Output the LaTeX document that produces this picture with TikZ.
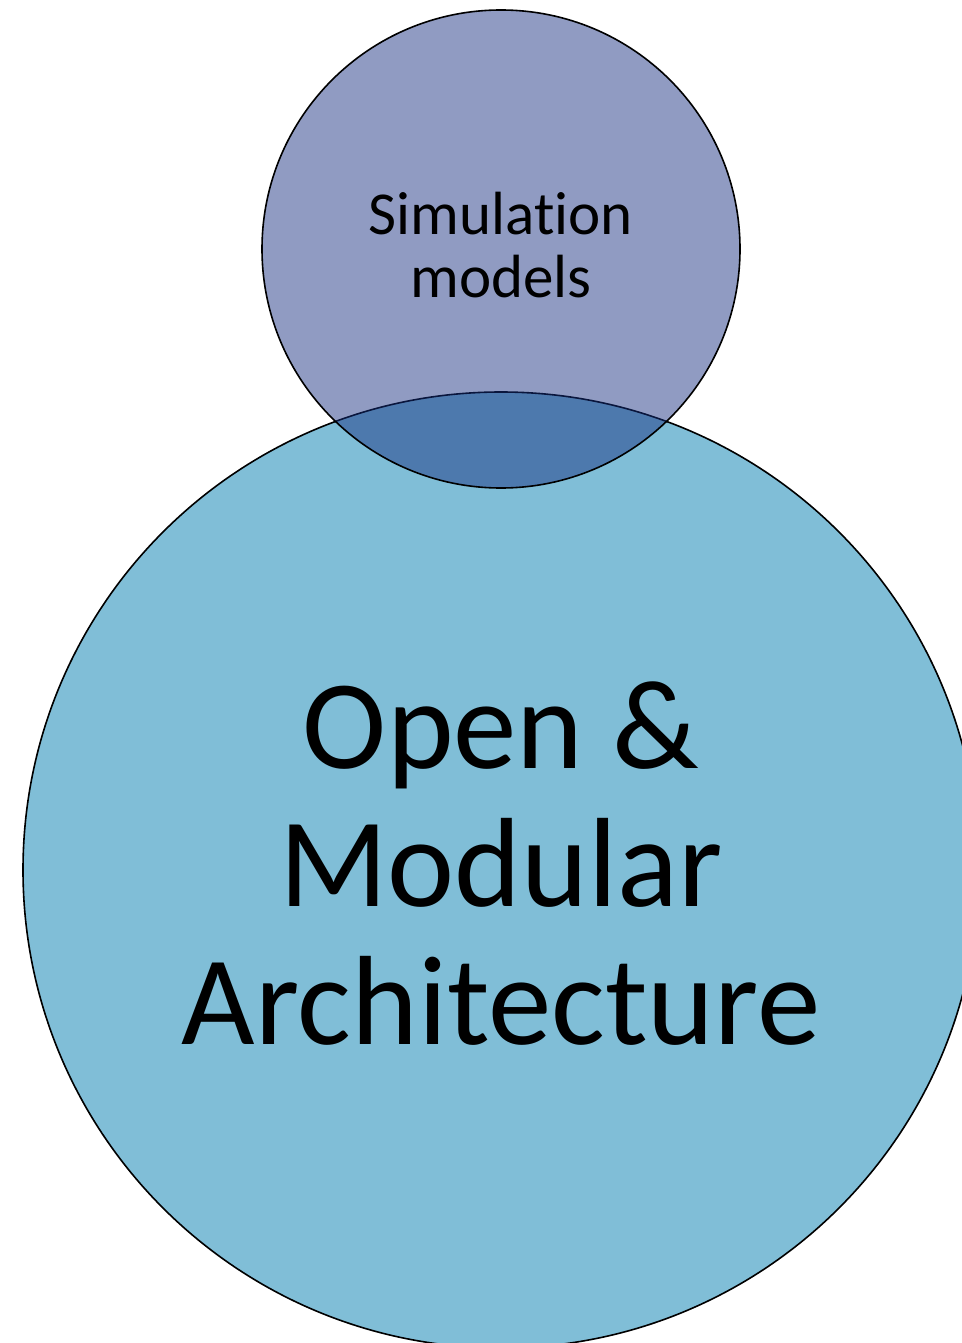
\documentclass[tikz,border=0pt]{standalone}
\usepackage{fontspec}
\setmainfont[Ligatures=NoCommon]{Carlito}
\begin{document}
\begin{tikzpicture}[x=1pt,y=-1pt,
  bigcirc/.style={circle, draw=black, line width=1.6pt, fill={rgb,255:red,128;green,190;blue,215}, inner sep=0pt, minimum size=956pt},
  smallcirc/.style={circle, draw=black, line width=1.6pt, fill={rgb,255:red,22;green,47;blue,128}, fill opacity=0.48, inner sep=0pt, minimum size=478pt},
  bigtext/.style={align=center, font=\fontsize{127}{138}\selectfont},
  smalltext/.style={align=center, font=\fontsize{61}{63}\selectfont}]
\useasboundingbox (0,0) rectangle (961,1343);
\node[bigcirc] (arch) at (501,870) {};
\node[bigtext] (archtext) at (501,864) {Open \&\\Modular\\Architecture};
\node[smallcirc] (sim) at (501,249) {};
\node[smalltext] (simtext) at (501,245) {Simulation\\models};
\end{tikzpicture}
\end{document}
